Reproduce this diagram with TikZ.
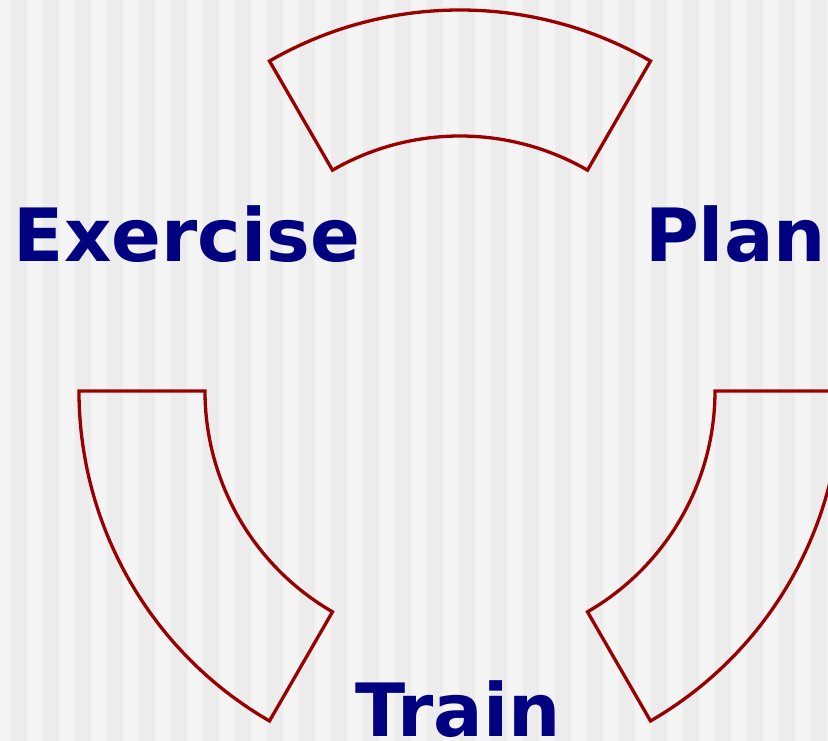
\documentclass[tikz,border=0pt]{standalone}
\usepackage{fontspec}
\setmainfont{DejaVu Sans}
\usetikzlibrary{positioning}
\definecolor{ringred}{RGB}{153,0,0}
\definecolor{labelblue}{RGB}{0,0,128}
\definecolor{stripelight}{RGB}{244,244,244}
\definecolor{stripedark}{RGB}{236,236,236}
\begin{document}
\begin{tikzpicture}[
    x=1pt, y=1pt,
    segment/.style={
        draw=ringred,
        line width=3.3pt,
        line join=miter
    },
    stage/.style={
        text=labelblue,
        font=\fontsize{73.5}{88}\selectfont\bfseries,
        anchor=base,
        inner sep=0pt
    },
    stripe/.style={
        fill=stripedark,
        draw=none
    }
    ]
\useasboundingbox (-460,-350) rectangle (368,391);
\clip (-460,-350) rectangle (368,391);
\fill[stripelight] (-460,-350) rectangle (368,391);
\foreach \k in {0,...,25}
\fill[stripe] (-449+32*\k,-350) rectangle +(16,741);

% ring segments
\foreach \a in {60,180,300}
\draw[segment] (\a:381) arc[start angle=\a, delta angle=60, radius=381]
    -- (\a+60:255) arc[start angle=\a+60, delta angle=-60, radius=255] -- cycle;

\node[stage] (exercise) at (-273,129) {Exercise};
\node[stage] (plan) at (275.5,129) {Plan};
\node[stage] (train) at (-2,-346) {Train};
\end{tikzpicture}
\end{document}
